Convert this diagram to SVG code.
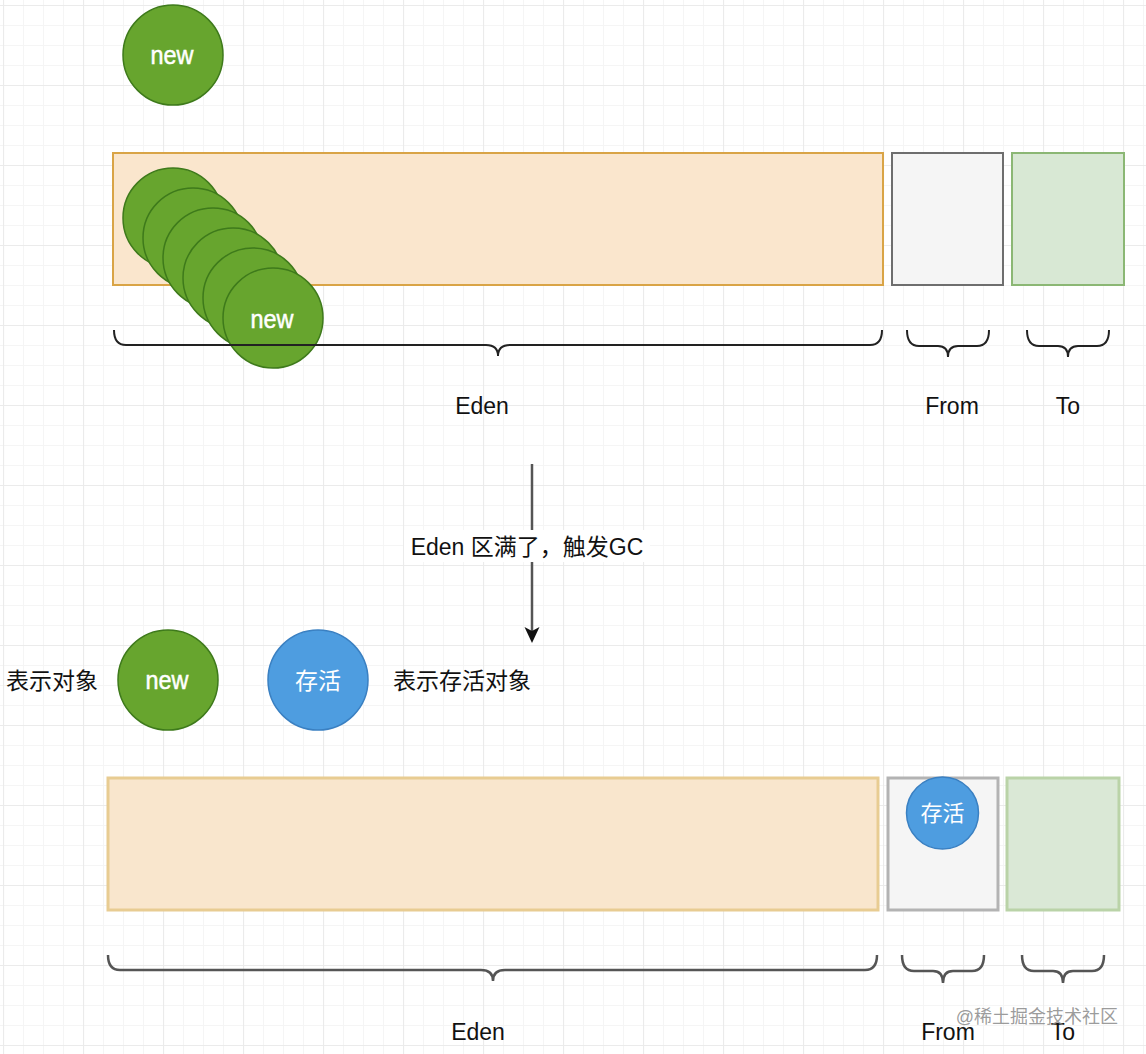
<svg xmlns="http://www.w3.org/2000/svg" width="1146" height="1054" viewBox="0 0 1146 1054">
  <style>
    .lbl { font-family: "Liberation Sans", "Noto Sans CJK SC", sans-serif; font-size: 23px; fill: #111; }
    .cjk { font-family: "Liberation Sans", "Noto Sans CJK SC", sans-serif; font-size: 23px; fill: #111; }
    .wtxt { font-family: "Liberation Sans", "Noto Sans CJK SC", sans-serif; fill: #fff; }
    .new { font-family: "Liberation Sans", sans-serif; font-size: 26px; fill: #fff; stroke: #fff; stroke-width: 0.5; }
    .green { fill: #67a52e; stroke: #3e7a1b; stroke-width: 1.5; }
    .blue { fill: #4e9de0; stroke: #3a80c2; stroke-width: 1.5; }
    .brace { fill: none; stroke: #222; stroke-width: 2; }
    .brace2 { fill: none; stroke: #555; stroke-width: 2.5; }
  </style>
  <defs>
    <pattern id="grid" patternUnits="userSpaceOnUse" x="3" y="5" width="80" height="80">
      <path d="M20.5 0V80M40.5 0V80M60.5 0V80M0 20.5H80M0 40.5H80M0 60.5H80" stroke="#f5f5f5" stroke-width="1" fill="none"/>
      <path d="M0.5 0V80M0 0.5H80" stroke="#ebebeb" stroke-width="1.2" fill="none"/>
    </pattern>
  </defs>
  <rect width="1146" height="1054" fill="#fff"/>
  <rect width="1146" height="1054" fill="url(#grid)"/>

  <!-- top section -->
  <g id="eden-top">
    <rect x="113" y="153" width="770" height="132" fill="#fae6cd" stroke="#d9a446" stroke-width="2"/>
  </g>
  <g id="from-top">
    <rect x="892" y="153" width="111" height="132" fill="#f5f5f5" stroke="#6e6e6e" stroke-width="2"/>
  </g>
  <g id="to-top">
    <rect x="1012" y="153" width="112" height="132" fill="#d8e8d4" stroke="#8bb774" stroke-width="2"/>
  </g>

  <g id="new-top">
    <circle class="green" cx="173" cy="55" r="50"/>
    <text class="new" x="172" y="64" text-anchor="middle" textLength="43" lengthAdjust="spacingAndGlyphs">new</text>
  </g>

  <g id="new-stack">
    <circle class="green" cx="173" cy="218" r="50"/>
    <circle class="green" cx="193" cy="238" r="50"/>
    <circle class="green" cx="213" cy="258" r="50"/>
    <circle class="green" cx="233" cy="278" r="50"/>
    <circle class="green" cx="253" cy="298" r="50"/>
    <circle class="green" cx="273" cy="318" r="50"/>
    <text class="new" x="272" y="328" text-anchor="middle" textLength="43" lengthAdjust="spacingAndGlyphs">new</text>
  </g>

  <g id="brace-eden-top">
    <path class="brace" d="M114 330 Q114 345 126 345 H486 Q498 345 498 356 Q498 345 510 345 H870 Q882 345 882 330"/>
    <text class="lbl" x="482" y="414" text-anchor="middle">Eden</text>
  </g>
  <g id="brace-from-top">
    <path class="brace" d="M907 330 Q907 346 919 346 H938 Q948 346 948 357 Q948 346 958 346 H977 Q989 346 989 330"/>
    <text class="lbl" x="952" y="414" text-anchor="middle">From</text>
  </g>
  <g id="brace-to-top">
    <path class="brace" d="M1027 330 Q1027 346 1039 346 H1058 Q1068 346 1068 357 Q1068 346 1078 346 H1097 Q1109 346 1109 330"/>
    <text class="lbl" x="1068" y="414" text-anchor="middle">To</text>
  </g>

  <!-- connector -->
  <g id="connectors">
    <line x1="532" y1="464" x2="532" y2="632" stroke="#555" stroke-width="2.5"/>
    <path d="M524.5 627 L532 631 L539.5 627 L532 643 Z" fill="#111"/>
    <rect x="404" y="530" width="246" height="32" fill="#fff"/>
    <text class="cjk" x="527" y="555" text-anchor="middle">Eden 区满了，触发GC</text>
  </g>

  <!-- legend -->
  <g id="legend-new">
    <text class="cjk" x="52" y="689" text-anchor="middle">表示对象</text>
    <circle class="green" cx="168" cy="680" r="50"/>
    <text class="new" x="167" y="689" text-anchor="middle" textLength="43" lengthAdjust="spacingAndGlyphs">new</text>
  </g>
  <g id="legend-alive">
    <circle class="blue" cx="318" cy="680" r="50"/>
    <text class="wtxt" x="318" y="689" font-size="23" text-anchor="middle">存活</text>
    <text class="cjk" x="462" y="689" text-anchor="middle">表示存活对象</text>
  </g>

  <!-- bottom section -->
  <g id="eden-bottom">
    <rect x="108" y="778" width="770" height="132" fill="#f9e6cd" stroke="#e8cc92" stroke-width="3"/>
  </g>
  <g id="from-bottom">
    <rect x="888" y="778" width="110" height="132" fill="#f5f5f5" stroke="#b3b3b3" stroke-width="3"/>
  </g>
  <g id="alive-in-from">
    <circle class="blue" cx="942.5" cy="813" r="36"/>
    <text class="wtxt" x="942.5" y="821" font-size="22" text-anchor="middle">存活</text>
  </g>
  <g id="to-bottom">
    <rect x="1007" y="778" width="112" height="132" fill="#dae8d6" stroke="#bad3a8" stroke-width="3"/>
  </g>

  <g id="brace-eden-bottom">
    <path class="brace2" d="M108 955 Q108 970 120 970 H481 Q493 970 493 981 Q493 970 505 970 H865 Q877 970 877 955"/>
    <text class="lbl" x="478" y="1040" text-anchor="middle">Eden</text>
  </g>
  <g id="brace-from-bottom">
    <path class="brace2" d="M902 955 Q902 971 914 971 H933 Q943 971 943 983 Q943 971 953 971 H972 Q984 971 984 955"/>
    <text class="lbl" x="948" y="1040" text-anchor="middle">From</text>
  </g>
  <g id="brace-to-bottom">
    <path class="brace2" d="M1022 955 Q1022 971 1034 971 H1053 Q1063 971 1063 983 Q1063 971 1073 971 H1092 Q1104 971 1104 955"/>
    <text class="lbl" x="1063" y="1040" text-anchor="middle">To</text>
  </g>

  <text x="1118" y="1023" text-anchor="end" font-family="Liberation Sans, Noto Sans CJK SC, sans-serif" font-size="18" fill="#8a8a8a" fill-opacity="0.85">@稀土掘金技术社区</text>
</svg>
